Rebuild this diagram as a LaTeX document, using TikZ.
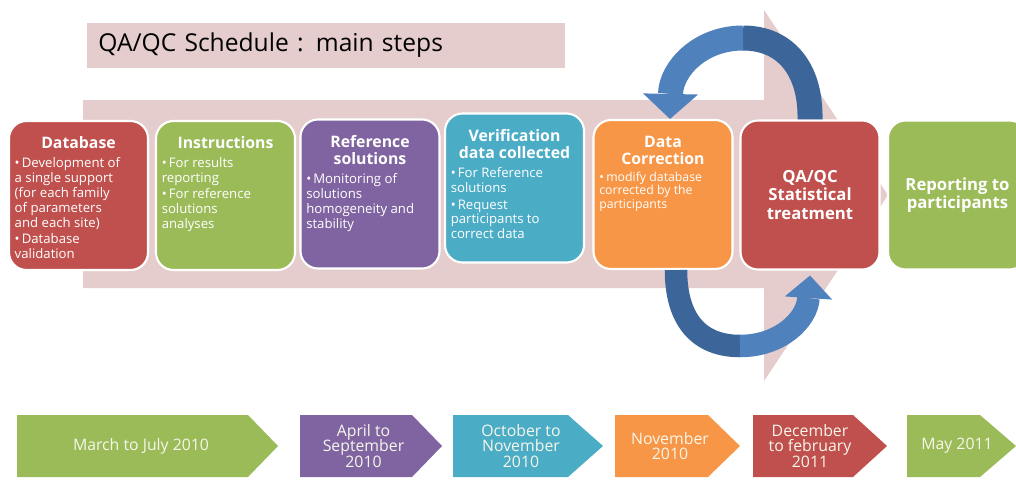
\documentclass[tikz,border=0pt]{standalone}
\usepackage{fontspec}
\setsansfont{Open Sans}
\usepackage[dvipsnames]{xcolor}
\usepackage{tikz}
\usetikzlibrary{arrows.meta}

\definecolor{bgpink}{HTML}{E6CDCD}
\definecolor{boxred}{HTML}{C0504D}
\definecolor{boxgreen}{HTML}{9BBB59}
\definecolor{boxpurple}{HTML}{8064A2}
\definecolor{boxteal}{HTML}{4BACC6}
\definecolor{boxorange}{HTML}{F79646}
\definecolor{loopblue}{HTML}{4F81BD}
\definecolor{loopdark}{HTML}{3C659A}
\definecolor{datewhite}{HTML}{F6F6EA}

\newcommand{\boxhead}[1]{\vspace*{5pt}{\centering\fontsize{9}{10}\selectfont\bfseries #1\par}\vspace{2pt}}
\newcommand{\boxitem}[3][7.5]{{\fontsize{#1}{#2}\selectfont\hangindent=4pt\hangafter=1\noindent\makebox[4pt][l]{\textbullet}#3\par}\vspace{1pt}}
\newcommand{\boxbody}[2][t]{\parbox[c][2.7cm][#1]{2.55cm}{\raggedright\color{white}#2}}

\begin{document}
\begin{tikzpicture}[
    stepbox/.style={rounded corners=0.35cm, draw=white, line width=1.2pt,
      minimum width=2.78cm, minimum height=2.98cm, inner sep=0pt, font=\sffamily},
    datetext/.style={text=datewhite, align=center, font=\sffamily\fontsize{9}{9}\selectfont}]
      \useasboundingbox (0, 0) rectangle (20.32, -9.58);
      \clip (0, 0) rectangle (20.32, -9.58);
      % big pale arrow behind the steps
      \fill[bgpink] (1.66, -2.0) -- (15.28, -2.0) -- (15.28, -0.2) -- (17.76, -3.9)
        -- (15.28, -7.62) -- (15.28, -5.76) -- (1.66, -5.76) -- cycle;
      \node[fill=bgpink, anchor=west, minimum height=0.9cm, inner xsep=0.22cm, text width=9.12cm,
        font=\sffamily\fontsize{14}{16}\selectfont] (title) at (1.74, -0.91) {QA/QC Schedule : main steps};
      % steps
      \node[stepbox, fill=boxred] (db) at (1.57, -3.91) {\boxbody{\boxhead{Database}%
        \boxitem{8.5}{Development of\\a single support\\(for each family\\of parameters\\and each site)}%
        \boxitem{8.5}{Database\\validation}}};
      \node[stepbox, fill=boxgreen] (instr) at (4.51, -3.91) {\boxbody{\boxhead{Instructions}%
        \boxitem{8.5}{For results\\reporting}\boxitem{8.5}{For reference\\solutions\\analyses}}};
      \node[stepbox, fill=boxpurple] (refsol) at (7.40, -3.88) {\boxbody{\boxhead{Reference\\solutions}%
        \boxitem{8.5}{Monitoring of\\solutions\\homogeneity and\\stability}}};
      \node[stepbox, fill=boxteal] (verif) at (10.29, -3.76) {\boxbody{\boxhead{Verification\\data collected}%
        \boxitem{8.5}{For Reference\\solutions}\boxitem{8.5}{Request\\participants to\\correct data}}};
      \node[stepbox, fill=boxorange] (corr) at (13.26, -3.89) {\boxbody{\boxhead{Data\\Correction}%
        \boxitem[7]{7.6}{modify database\\corrected by the\\participants}}};
      \node[stepbox, fill=boxred] (stat) at (16.20, -3.90) {\boxbody[c]{\centering
        \fontsize{9.5}{10.5}\selectfont\bfseries QA/QC\\Statistical\\treatment}};
      \node[stepbox, fill=boxgreen] (report) at (19.15, -3.90) {\boxbody[c]{\centering
        \fontsize{9.5}{10.5}\selectfont\bfseries Reporting to\\participants}};
      % correction loop
      \coordinate (toppeak) at (14.86, -0.76);
      \coordinate (botpeak) at (14.80, -6.92);
      \draw[loopdark, line width=0.5cm] (stat.north) .. controls (16.22, -1.4) and (15.72, -0.76) .. (toppeak);
      \draw[loopblue, line width=0.5cm, -{Triangle[width=1.1cm, length=0.5cm, line width=0pt]}]
        (toppeak) .. controls (13.98, -0.76) and (13.42, -1.4) .. ([xshift=0.14cm]corr.north);
      \draw[loopdark, line width=0.45cm] ([xshift=0.26cm]corr.south) .. controls (13.52, -6.42) and (14.0, -6.92) .. (botpeak);
      \draw[loopblue, line width=0.45cm, -{Triangle[width=0.95cm, length=0.45cm, line width=0pt]}]
        (botpeak) .. controls (15.6, -6.92) and (16.14, -6.4) .. ([yshift=-0.1cm]stat.south);
      % time line
      \fill[boxgreen] (0.34, -8.3) -- (4.96, -8.3) -- (5.56, -8.92) -- (4.96, -9.54) -- (0.34, -9.54) -- cycle;
      \fill[boxpurple] (6.0, -8.3) -- (8.24, -8.3) -- (8.84, -8.92) -- (8.24, -9.54) -- (6.0, -9.54) -- cycle;
      \fill[boxteal] (9.06, -8.3) -- (11.36, -8.3) -- (12.06, -8.92) -- (11.36, -9.54) -- (9.06, -9.54) -- cycle;
      \fill[boxorange] (12.3, -8.3) -- (14.16, -8.3) -- (14.8, -8.92) -- (14.16, -9.54) -- (12.3, -9.54) -- cycle;
      \fill[boxred] (15.06, -8.3) -- (17.06, -8.3) -- (17.74, -8.92) -- (17.06, -9.54) -- (15.06, -9.54) -- cycle;
      \fill[boxgreen] (18.14, -8.3) -- (19.6, -8.3) -- (20.32, -8.92) -- (19.6, -9.54) -- (18.14, -9.54) -- cycle;
      \node[datetext] (d1) at (2.82, -8.92) {March to July 2010};
      \node[datetext] (d2) at (7.27, -8.92) {April to\\September\\2010};
      \node[datetext] (d3) at (10.42, -8.92) {October to\\November\\2010};
      \node[datetext] (d4) at (13.40, -8.92) {November\\2010};
      \node[datetext] (d5) at (16.20, -8.92) {December\\to february\\2011};
      \node[datetext] (d6) at (19.14, -8.92) {May 2011};
    \end{tikzpicture}
\end{document}
